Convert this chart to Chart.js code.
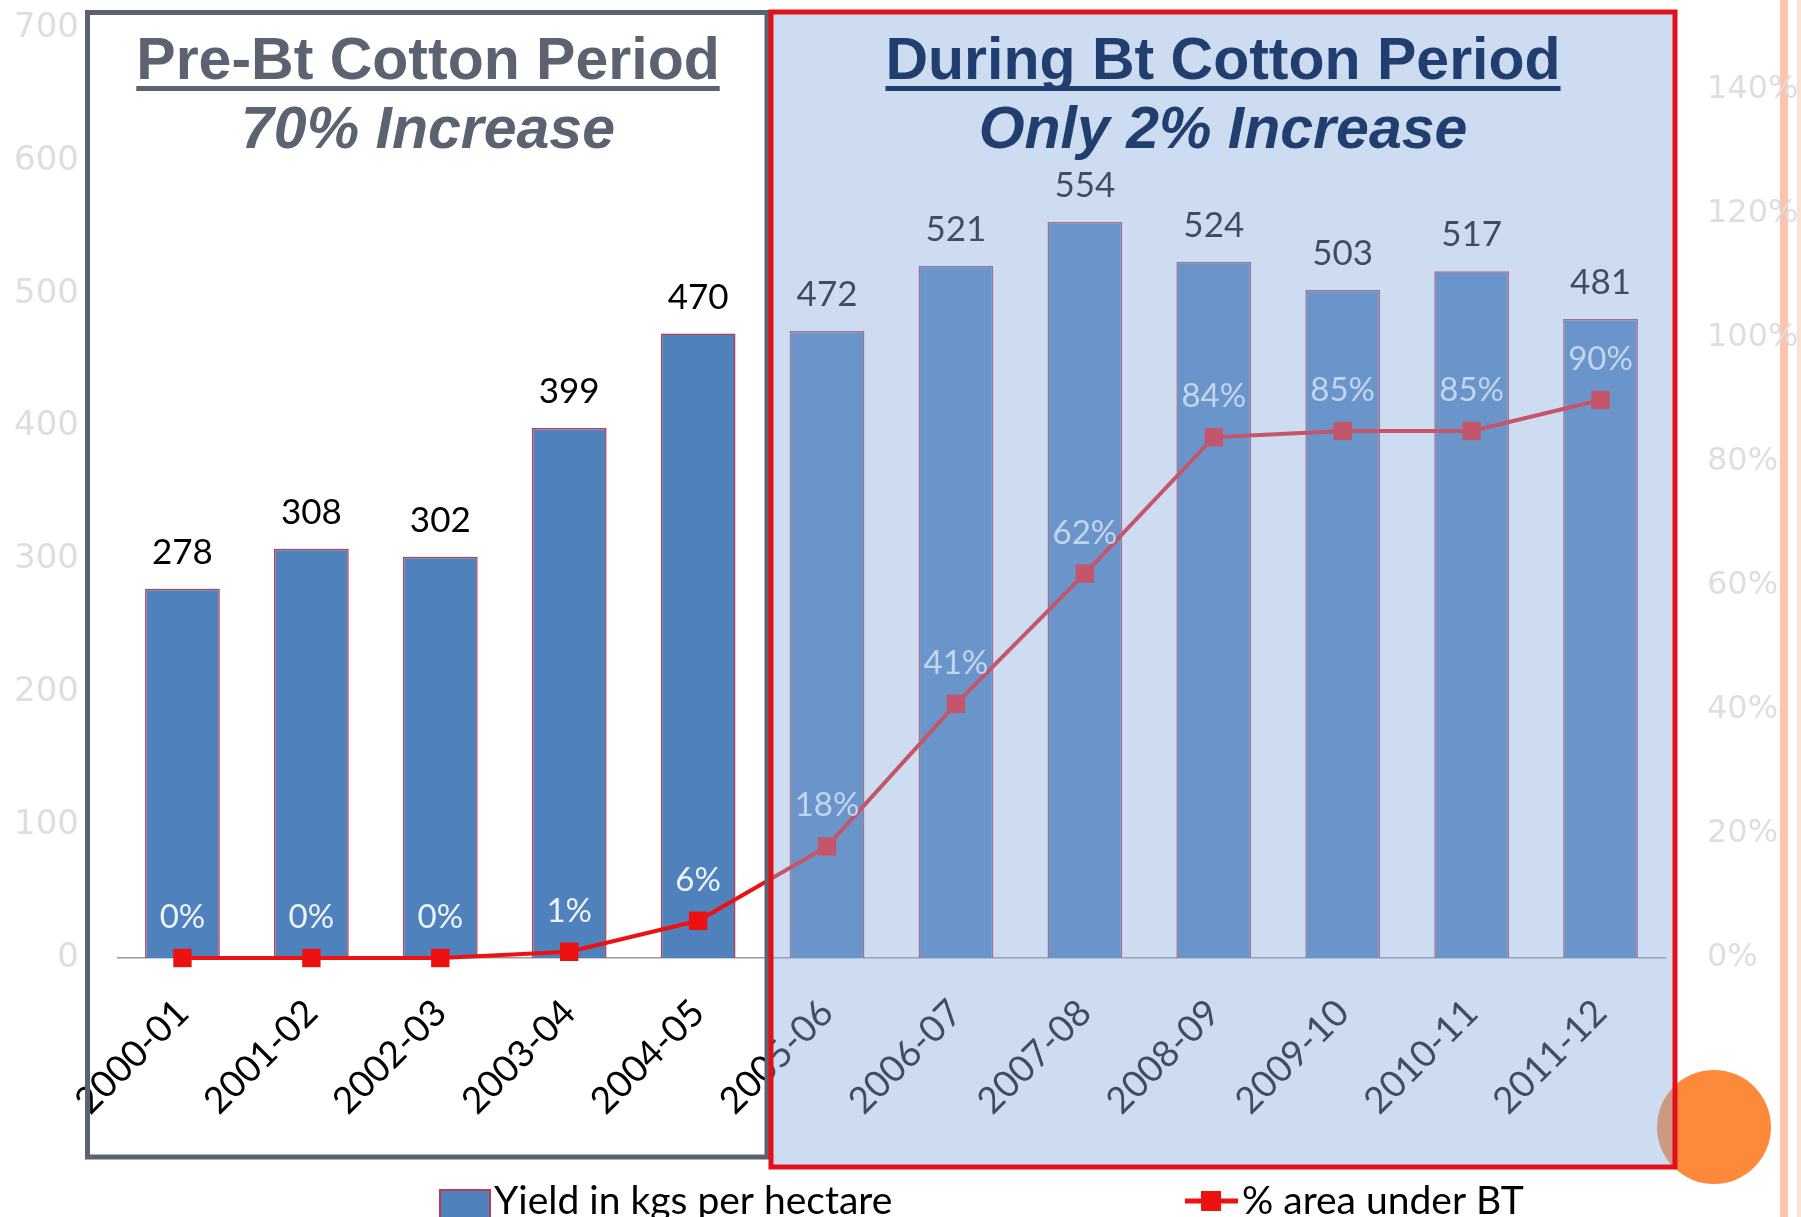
<!DOCTYPE html>
<html>
<head>
<meta charset="utf-8">
<script src="https://cdn.jsdelivr.net/npm/chart.js@4.4.1/dist/chart.umd.min.js"></script>
<style>
  html, body { margin: 0; padding: 0; background: #fff; }
  #wrap { width: 1801px; height: 1217px; position: relative; }
</style>
</head>
<body>
<div id="wrap"><canvas id="cottonChart"></canvas></div>
<script>
const seasons = ['2000-01', '2001-02', '2002-03', '2003-04', '2004-05', '2005-06',
  '2006-07', '2007-08', '2008-09', '2009-10', '2010-11', '2011-12']
const yieldKgHa = [278, 308, 302, 399, 470, 472, 521, 554, 524, 503, 517, 481]
const btAreaPct = [0, 0, 0, 1, 6, 18, 41, 62, 84, 85, 85, 90]
const yieldTicks = [0, 100, 200, 300, 400, 500, 600, 700]
const pctTicks = [0, 20, 40, 60, 80, 100, 120, 140]
const seriesNames = ['Yield in kgs per hectare', '% area under BT']
const preTitle = ['Pre-Bt Cotton Period', '70% Increase']
const btTitle = ['During Bt Cotton Period', 'Only 2% Increase']

const BAR_BLUE = '#4f81bd'
const LINE_RED = '#ee1111'

// white page + the pink stripe at the slide edge
const backdropPlugin = {
  id: 'backdrop',
  beforeDraw(chart) {
    const ctx = chart.ctx
    ctx.save()
    ctx.fillStyle = '#fff'
    ctx.fillRect(0, 0, chart.width, chart.height)
    ctx.fillStyle = '#fcc4ae'
    ctx.fillRect(1780, 0, 8, chart.height)
    ctx.fillStyle = '#fde0d4'
    ctx.fillRect(1797, 0, 4, chart.height)
    ctx.restore()
  }
}

// numbers above bars and % above line points
const valueLabelsPlugin = {
  id: 'valueLabels',
  afterDatasetsDraw(chart) {
    const ctx = chart.ctx
    const bars = chart.getDatasetMeta(0).data
    const points = chart.getDatasetMeta(1).data
    ctx.save()
    ctx.textAlign = 'center'
    ctx.textBaseline = 'alphabetic'
    ctx.font = '35px Lato'
    ctx.fillStyle = '#000'
    bars.forEach((bar, i) => ctx.fillText(String(yieldKgHa[i]), bar.x, bar.y - 25))
    ctx.font = '33px Lato'
    ctx.fillStyle = '#eef3fa'
    points.forEach((pt, i) => ctx.fillText(btAreaPct[i] + '%', pt.x, pt.y - 30))
    ctx.restore()
  }
}

function drawTitle(ctx, lines, cx, size, color) {
  ctx.fillStyle = color
  ctx.textAlign = 'center'
  ctx.textBaseline = 'alphabetic'
  ctx.font = 'bold ' + size + 'px "Liberation Sans", Arial, sans-serif'
  ctx.fillText(lines[0], cx, 79)
  const w = ctx.measureText(lines[0]).width
  ctx.fillRect(cx - w / 2, 86, w, 5)
  ctx.font = 'italic bold ' + size + 'px "Liberation Sans", Arial, sans-serif'
  ctx.fillText(lines[1], cx, 148)
}

// period boxes, titles, bullet and legend
const panelsPlugin = {
  id: 'panels',
  afterDraw(chart) {
    const ctx = chart.ctx
    ctx.save()
    ctx.fillStyle = '#fd8a3b'
    ctx.beginPath()
    ctx.arc(1714, 1127, 57, 0, Math.PI * 2)
    ctx.fill()

    ctx.fillStyle = 'rgba(141, 175, 221, 0.44)'
    ctx.fillRect(771, 12, 904, 1155)

    ctx.lineWidth = 5
    ctx.strokeStyle = '#5b6371'
    ctx.strokeRect(87.5, 12.5, 679.5, 1144.5)
    ctx.strokeStyle = '#e3101c'
    ctx.strokeRect(771, 12, 904, 1155)

    drawTitle(ctx, preTitle, 428, 59, '#5b6371')
    drawTitle(ctx, btTitle, 1223, 59, '#203f70')

    // legend
    ctx.fillStyle = BAR_BLUE
    ctx.fillRect(440, 1190, 50, 30)
    ctx.strokeStyle = '#c0394f'
    ctx.lineWidth = 2
    ctx.strokeRect(440, 1190, 50, 30)
    ctx.font = '39px Lato'
    ctx.fillStyle = '#000'
    ctx.textAlign = 'left'
    ctx.fillText(seriesNames[0], 494, 1214)

    ctx.strokeStyle = LINE_RED
    ctx.lineWidth = 5
    ctx.beginPath()
    ctx.moveTo(1185, 1201)
    ctx.lineTo(1238, 1201)
    ctx.stroke()
    ctx.fillStyle = LINE_RED
    ctx.fillRect(1201, 1191, 20, 20)
    ctx.fillStyle = '#000'
    ctx.fillText(seriesNames[1], 1242, 1214)
    ctx.restore()
  }
}

new Chart(document.getElementById('cottonChart'), {
  data: {
    labels: seasons,
    datasets: [
      {
        type: 'bar',
        label: seriesNames[0],
        data: yieldKgHa,
        yAxisID: 'yYield',
        backgroundColor: BAR_BLUE,
        borderColor: '#c0394f',
        borderWidth: 1.5,
        categoryPercentage: 1,
        barPercentage: 0.58,
        order: 2,
        clip: false
      },
      {
        type: 'line',
        label: seriesNames[1],
        data: btAreaPct,
        yAxisID: 'yPct',
        borderColor: LINE_RED,
        backgroundColor: LINE_RED,
        borderWidth: 4,
        pointStyle: 'rect',
        pointRadius: 13,
        pointBorderWidth: 0,
        tension: 0,
        order: 1,
        clip: false
      }
    ]
  },
  options: {
    responsive: true,
    maintainAspectRatio: false,
    animation: false,
    layout: { padding: { top: 28, left: 0, right: 0, bottom: 0 } },
    plugins: {
      legend: { display: false },
      tooltip: { enabled: false }
    },
    scales: {
      x: {
        grid: { display: false, drawTicks: false },
        border: { display: true, color: '#9a9a9a', width: 1.5 },
        ticks: {
          autoSkip: false,
          minRotation: 45,
          maxRotation: 45,
          padding: 33,
          color: '#000',
          font: { family: 'Lato', size: 37 }
        },
        afterFit(scale) { scale.height = 259 }
      },
      yYield: {
        position: 'left',
        min: 0,
        max: 700,
        grid: { display: false, drawTicks: false },
        border: { display: false },
        ticks: {
          padding: 39,
          color: '#dedede',
          font: { family: 'DejaVu Sans', size: 34 }
        },
        afterBuildTicks(scale) { scale.ticks = yieldTicks.map((v) => ({ value: v })) },
        afterFit(scale) {
          scale.width = 118
          scale.paddingTop = 0
          scale.paddingBottom = 0
        }
      },
      yPct: {
        position: 'right',
        min: 0,
        max: 150,
        grid: { display: false, drawTicks: false },
        border: { display: false },
        ticks: {
          padding: 42,
          color: '#dedede',
          font: { family: 'DejaVu Sans', size: 32 },
          callback: (v) => v + '%'
        },
        afterBuildTicks(scale) { scale.ticks = pctTicks.map((v) => ({ value: v })) },
        afterFit(scale) {
          scale.width = 136
          scale.paddingTop = 0
          scale.paddingBottom = 0
        }
      }
    }
  },
  plugins: [backdropPlugin, valueLabelsPlugin, panelsPlugin]
})
</script>
</body>
</html>
